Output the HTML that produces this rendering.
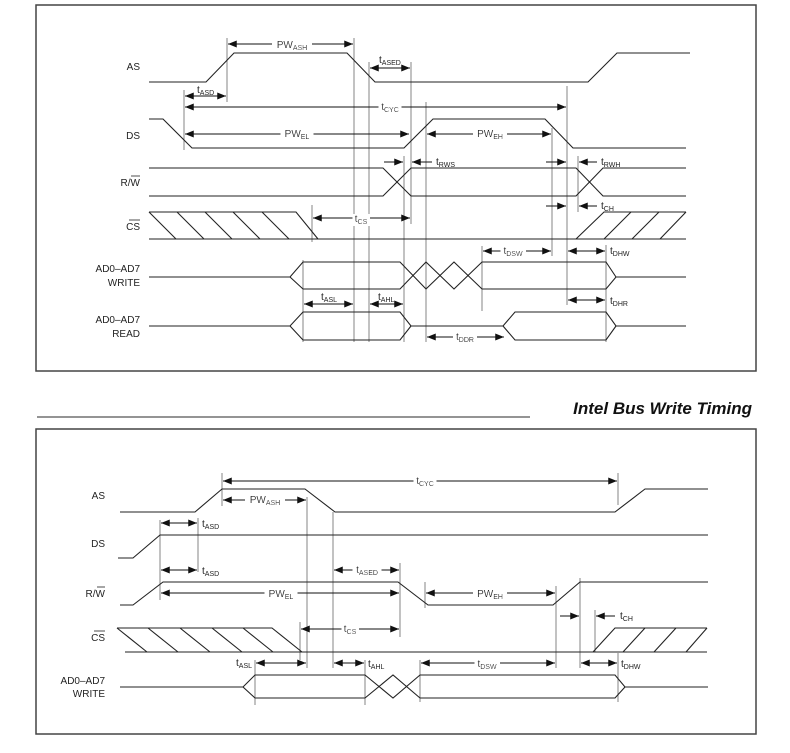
<!DOCTYPE html>
<html><head><meta charset="utf-8"><style>
html,body{margin:0;padding:0;background:#fff;}
svg{display:block;}
text{font-family:"Liberation Sans",sans-serif;font-size:10px;fill:#222;}
.lb{text-anchor:end;}
.dl{text-anchor:middle;filter:url(#bg);}
.s{stroke:#222;stroke-width:1.1;fill:none;}
.g{stroke:#777;stroke-width:0.9;fill:none;}
.d{stroke:#111;stroke-width:1.1;fill:none;marker-start:url(#a);marker-end:url(#a);}
.de{stroke:#111;stroke-width:1.1;fill:none;marker-end:url(#a);}
</style></head><body>
<svg width="790" height="753" viewBox="0 0 790 753" xmlns="http://www.w3.org/2000/svg">
<defs><marker id="a" viewBox="0 0 10 8" refX="10" refY="4" markerWidth="11" markerHeight="7" orient="auto-start-reverse" markerUnits="userSpaceOnUse"><path d="M0,0L10,4L0,8z" fill="#111"/></marker>
<filter id="bg" x="-0.15" y="0" width="1.3" height="1"><feFlood flood-color="#fff"/><feComposite in="SourceGraphic" operator="over"/></filter></defs>
<rect x="36" y="5" width="720" height="366" fill="none" stroke="#444" stroke-width="1.5"/>
<rect x="36" y="429" width="720" height="305" fill="none" stroke="#444" stroke-width="1.5"/>
<line x1="37" y1="417" x2="530" y2="417" stroke="#555" stroke-width="1.2"/>
<text x="752" y="414" style="font-size:17px;font-weight:bold;font-style:italic;text-anchor:end;fill:#111">Intel Bus Write Timing</text>

<!-- ===== TOP ===== -->
<text class="lb" x="140" y="70">AS</text>
<text class="lb" x="140" y="139">DS</text>
<text class="lb" x="140" y="186">R/W</text><line x1="131" y1="176" x2="140" y2="176" stroke="#222" stroke-width="0.8"/>
<text class="lb" x="140" y="230">CS</text><line x1="129" y1="220" x2="140" y2="220" stroke="#222" stroke-width="0.8"/>
<text class="lb" x="140" y="272">AD0–AD7</text><text class="lb" x="140" y="286">WRITE</text>
<text class="lb" x="140" y="323">AD0–AD7</text><text class="lb" x="140" y="337">READ</text>

<g class="g">
<line x1="227" y1="38" x2="227" y2="102"/>
<line x1="354" y1="38" x2="354" y2="342"/>
<line x1="369" y1="62" x2="369" y2="342"/>
<line x1="411" y1="62" x2="411" y2="224"/>
<line x1="184" y1="90" x2="184" y2="150"/>
<line x1="567" y1="86" x2="567" y2="305"/>
<line x1="426" y1="102" x2="426" y2="342"/>
<line x1="552" y1="128" x2="552" y2="256"/>
<line x1="404" y1="156" x2="404" y2="342"/>
<line x1="578" y1="156" x2="578" y2="212"/>
<line x1="312" y1="205" x2="312" y2="242"/>
<line x1="303" y1="260" x2="303" y2="342"/>
<line x1="482" y1="246" x2="482" y2="311"/>
<line x1="606" y1="245" x2="606" y2="342"/>
</g>

<polyline class="s" points="149,82 206,82 234,53 347,53 375,82 588,82 617,53 690,53"/>
<polyline class="s" points="149,119 163,119 192,148 404,148 433,119 545,119 573,148 686,148"/>
<polyline class="s" points="149,168 383,168 411,196 576,196 603,168 686,168"/>
<polyline class="s" points="149,196 383,196 411,168 576,168 603,196 686,196"/>
<polyline class="s" points="149,212 296,212 318,239"/>
<line class="s" x1="149" y1="239" x2="686" y2="239"/>
<g class="s"><line x1="149" y1="212" x2="176" y2="239"/><line x1="177" y1="212" x2="204" y2="239"/><line x1="205" y1="212" x2="232" y2="239"/><line x1="233" y1="212" x2="260" y2="239"/><line x1="262" y1="212" x2="289" y2="239"/>
<polyline points="576,239 604,212 686,212"/><line x1="604" y1="239" x2="631" y2="212"/><line x1="632" y1="239" x2="659" y2="212"/><line x1="660" y1="239" x2="686" y2="212"/></g>
<polyline class="s" points="149,277 290,277 303,262 400,262 426,289 454,262 482,289 606,289 616,277 686,277"/>
<polyline class="s" points="290,277 303,289 400,289 426,262 454,289 482,262 606,262 616,277"/>
<polyline class="s" points="149,326 290,326 303,312 400,312 411,326 503,326 515,312 606,312 616,326 686,326"/>
<polyline class="s" points="290,326 303,340 400,340 411,326"/>
<polyline class="s" points="503,326 515,340 606,340 616,326"/>

<line class="d" x1="228" y1="44" x2="353" y2="44"/><text class="dl" x="292" y="48">PW<tspan font-size="7" dy="2">ASH</tspan></text>
<line class="d" x1="370" y1="68" x2="410" y2="68"/><text x="379" y="63">t<tspan font-size="7" dy="2">ASED</tspan></text>
<line class="d" x1="185" y1="96" x2="226" y2="96"/><text x="197" y="93">t<tspan font-size="7" dy="2">ASD</tspan></text>
<line class="d" x1="185" y1="107" x2="566" y2="107"/><text class="dl" x="390" y="110">t<tspan font-size="7" dy="2">CYC</tspan></text>
<line class="d" x1="185" y1="134" x2="409" y2="134"/><text class="dl" x="297" y="137">PW<tspan font-size="7" dy="2">EL</tspan></text>
<line class="d" x1="427" y1="134" x2="551" y2="134"/><text class="dl" x="490" y="137">PW<tspan font-size="7" dy="2">EH</tspan></text>
<line class="de" x1="384" y1="162" x2="403" y2="162"/><line class="de" x1="432" y1="162" x2="412" y2="162"/><text x="436" y="165">t<tspan font-size="7" dy="2">RWS</tspan></text>
<line class="de" x1="546" y1="162" x2="566" y2="162"/><line class="de" x1="597" y1="162" x2="579" y2="162"/><text x="601" y="165">t<tspan font-size="7" dy="2">RWH</tspan></text>
<line class="de" x1="546" y1="206" x2="566" y2="206"/><line class="de" x1="597" y1="206" x2="579" y2="206"/><text x="601" y="209">t<tspan font-size="7" dy="2">CH</tspan></text>
<line class="d" x1="313" y1="218" x2="410" y2="218"/><text class="dl" x="361" y="222">t<tspan font-size="7" dy="2">CS</tspan></text>
<line class="d" x1="483" y1="251" x2="551" y2="251"/><text class="dl" x="513" y="254">t<tspan font-size="7" dy="2">DSW</tspan></text>
<line class="d" x1="568" y1="251" x2="605" y2="251"/><text x="610" y="254">t<tspan font-size="7" dy="2">DHW</tspan></text>
<line class="d" x1="568" y1="300" x2="605" y2="300"/><text x="610" y="304">t<tspan font-size="7" dy="2">DHR</tspan></text>
<line class="d" x1="304" y1="304" x2="353" y2="304"/><text x="321" y="300">t<tspan font-size="7" dy="2">ASL</tspan></text>
<line class="d" x1="370" y1="304" x2="403" y2="304"/><text x="378" y="300">t<tspan font-size="7" dy="2">AHL</tspan></text>
<line class="d" x1="427" y1="337" x2="504" y2="337"/><text class="dl" x="465" y="340">t<tspan font-size="7" dy="2">DDR</tspan></text>

<!-- ===== BOTTOM ===== -->
<text class="lb" x="105" y="499">AS</text>
<text class="lb" x="105" y="547">DS</text>
<text class="lb" x="105" y="597">R/W</text><line x1="97" y1="587" x2="105" y2="587" stroke="#222" stroke-width="0.8"/>
<text class="lb" x="105" y="641">CS</text><line x1="94" y1="631" x2="105" y2="631" stroke="#222" stroke-width="0.8"/>
<text class="lb" x="105" y="684">AD0–AD7</text><text class="lb" x="105" y="697">WRITE</text>

<g class="g">
<line x1="222" y1="473" x2="222" y2="506"/>
<line x1="618" y1="473" x2="618" y2="505"/>
<line x1="307" y1="497" x2="307" y2="668"/>
<line x1="198" y1="518" x2="198" y2="572"/>
<line x1="160" y1="520" x2="160" y2="600"/>
<line x1="333" y1="512" x2="333" y2="668"/>
<line x1="400" y1="563" x2="400" y2="637"/>
<line x1="425" y1="582" x2="425" y2="608"/>
<line x1="556" y1="586" x2="556" y2="668"/>
<line x1="580" y1="578" x2="580" y2="668"/>
<line x1="595" y1="610" x2="595" y2="652"/>
<line x1="300" y1="622" x2="300" y2="660"/>
<line x1="255" y1="660" x2="255" y2="705"/>
<line x1="365" y1="660" x2="365" y2="705"/>
<line x1="420" y1="660" x2="420" y2="702"/>
<line x1="618" y1="653" x2="618" y2="702"/>
</g>

<polyline class="s" points="120,512 195,512 222,489 305,489 335,512 615,512 645,489 708,489"/>
<polyline class="s" points="118,558 133,558 160,535 708,535"/>
<polyline class="s" points="120,605 133,605 163,582 398,582 428,605 553,605 580,582 708,582"/>
<polyline class="s" points="117,628 272,628 302,652"/>
<line class="s" x1="125" y1="652" x2="707" y2="652"/>
<g class="s"><line x1="117" y1="628" x2="147" y2="652"/><line x1="148" y1="628" x2="178" y2="652"/><line x1="180" y1="628" x2="210" y2="652"/><line x1="212" y1="628" x2="242" y2="652"/><line x1="243" y1="628" x2="273" y2="652"/>
<polyline points="593,652 615,628 707,628"/><line x1="623" y1="652" x2="645" y2="628"/><line x1="654" y1="652" x2="676" y2="628"/><line x1="686" y1="652" x2="707" y2="628"/></g>
<polyline class="s" points="120,687 243,687 255,675 365,675 393,698 420,675 615,675 625,687 708,687"/>
<polyline class="s" points="243,687 255,698 365,698 393,675 420,698 615,698 625,687"/>

<line class="d" x1="223" y1="481" x2="617" y2="481"/><text class="dl" x="425" y="484">t<tspan font-size="7" dy="2">CYC</tspan></text>
<line class="d" x1="223" y1="500" x2="306" y2="500"/><text class="dl" x="265" y="503">PW<tspan font-size="7" dy="2">ASH</tspan></text>
<line class="d" x1="161" y1="523" x2="197" y2="523"/><text x="202" y="527">t<tspan font-size="7" dy="2">ASD</tspan></text>
<line class="d" x1="161" y1="570" x2="197" y2="570"/><text x="202" y="574">t<tspan font-size="7" dy="2">ASD</tspan></text>
<line class="d" x1="334" y1="570" x2="399" y2="570"/><text class="dl" x="367" y="573">t<tspan font-size="7" dy="2">ASED</tspan></text>
<line class="d" x1="161" y1="593" x2="399" y2="593"/><text class="dl" x="281" y="597">PW<tspan font-size="7" dy="2">EL</tspan></text>
<line class="d" x1="426" y1="593" x2="555" y2="593"/><text class="dl" x="490" y="597">PW<tspan font-size="7" dy="2">EH</tspan></text>
<line class="d" x1="301" y1="629" x2="399" y2="629"/><text class="dl" x="350" y="632">t<tspan font-size="7" dy="2">CS</tspan></text>
<line class="de" x1="560" y1="616" x2="579" y2="616"/><line class="de" x1="615" y1="616" x2="596" y2="616"/><text x="620" y="619">t<tspan font-size="7" dy="2">CH</tspan></text>
<line class="d" x1="256" y1="663" x2="306" y2="663"/><text x="236" y="666">t<tspan font-size="7" dy="2">ASL</tspan></text>
<line class="d" x1="334" y1="663" x2="364" y2="663"/><text x="368" y="667">t<tspan font-size="7" dy="2">AHL</tspan></text>
<line class="d" x1="421" y1="663" x2="555" y2="663"/><text class="dl" x="487" y="667">t<tspan font-size="7" dy="2">DSW</tspan></text>
<line class="d" x1="581" y1="663" x2="617" y2="663"/><text x="621" y="667">t<tspan font-size="7" dy="2">DHW</tspan></text>
</svg>
</body></html>
